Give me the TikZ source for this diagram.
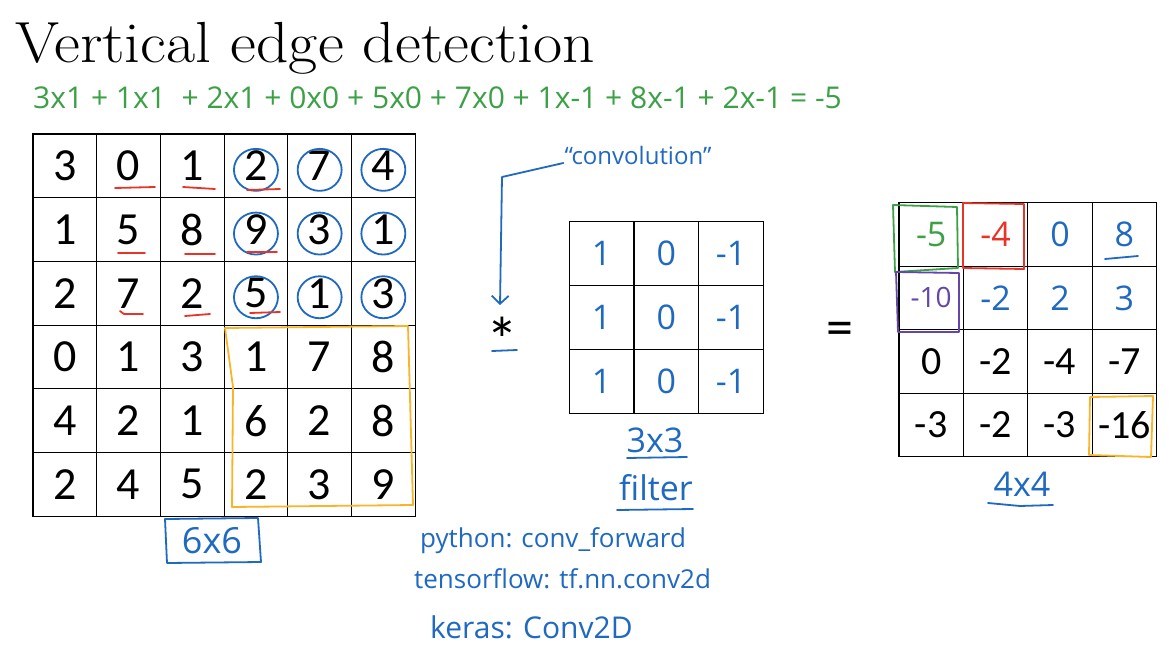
\documentclass[tikz,border=0pt]{standalone}
\usepackage{fontspec}
\usetikzlibrary{calc,arrows.meta}
\newfontfamily\numfont{Carlito}
\newfontfamily\handfont{Open Sans}
\definecolor{hblue}{RGB}{31,105,193}
\definecolor{hgreen}{RGB}{60,160,70}
\definecolor{hred}{RGB}{232,52,40}
\definecolor{horange}{RGB}{250,180,40}
\definecolor{hpurple}{RGB}{100,70,170}
\begin{document}
\begin{tikzpicture}[x=1pt,y=-1pt,
  cell/.style={draw=black, line width=1.2pt, minimum width=63.7pt, minimum height=63.7pt, inner sep=0pt},
  fcell/.style={draw=black, line width=1.2pt, minimum width=64.7pt, minimum height=64pt, inner sep=0pt},
  ocell/.style={draw=black, line width=1.2pt, minimum width=64.4pt, minimum height=63.5pt, inner sep=0pt},
  bignum/.style={font=\numfont\fontsize{46}{46}\selectfont},
  outnum/.style={font=\numfont\fontsize{40}{40}\selectfont, text=black},
  handnum/.style={font=\handfont\fontsize{34}{34}\selectfont, text=hblue},
  hand/.style={line width=1.8pt, line cap=round, line join=round},
  ogreen/.style={handnum, text=hgreen},
  ored/.style={handnum, text=hred},
  oblue/.style={handnum, text=hblue},
  opurple/.style={font=\handfont\fontsize{28}{28}\selectfont, text=hpurple},
  oblack/.style={outnum},
  label/.style={font=\handfont\fontsize{34}{34}\selectfont, text=hblue, inner sep=0pt},
  code/.style={font=\handfont\fontsize{26}{26}\selectfont, text=hblue, inner sep=0pt, anchor=base west}
]
\fill[white] (0,0) rectangle (1170,645);
\useasboundingbox (0,0) rectangle (1170,645);

% title
\node[anchor=base west, inner sep=0pt, xscale=1.094, font=\fontsize{58}{60}\selectfont] (title) at (15,62) {Vertical edge detection};

% green equation
\node[anchor=west, inner sep=0pt, text=hgreen, font=\handfont\fontsize{30}{30}\selectfont] (eq) at (33,98)
  {3x1 + 1x1 \ + 2x1 + 0x0 + 5x0 + 7x0 + 1x-1 + 8x-1 + 2x-1 = -5};

% 6x6 input
\foreach \row [count=\r] in {{3,0,1,2,7,4},{1,5,8,9,3,1},{2,7,2,5,1,3},{0,1,3,1,7,8},{4,2,1,6,2,8},{2,4,5,2,3,9}} {
  \foreach \v [count=\c] in \row {
    \node[cell, bignum] (g-\r-\c) at ({33+63.7*(\c-0.5)},{134+63.7*(\r-0.5)}) {\v};
  }
}
% blue circles
\foreach \r in {1,2,3} {
  \foreach \c in {4,5,6} {
    \draw[hand, hblue] ($(g-\r-\c.center)+(0,4)$) ellipse [x radius=22, y radius=21];
  }
}
% red underlines
\draw[hand, hred] (115,188) -- (155,187);
\draw[hand, hred] (183,187) -- (215,189);
\draw[hand, hred] (247,190) -- (280,189);
\draw[hand, hred] (118,253) -- (145,253);
\draw[hand, hred] (185,254) -- (215,254);
\draw[hand, hred] (247,252) -- (277,252);
\draw[hand, hred] (120,311) -- (124,314) -- (143,314);
\draw[hand, hred] (185,316) -- (210,314);
\draw[hand, hred] (250,313) -- (280,312);
% orange window
\draw[hand, horange] (225,328) -- (408,326) -- (413,505) -- (232,507) -- (233,387) -- cycle;
% 6x6 label
\node[label, font=\handfont\fontsize{36}{36}\selectfont] (l66) at (212,541) {6x6};
\draw[hand, hblue] (165,519) -- (258,518) -- (261,562) -- (167,563) -- cycle;

% convolution label and arrow
\node[font=\handfont\fontsize{24}{24}\selectfont, text=hblue, inner sep=1pt] (conv) at (638,155) {“convolution”};
\node[anchor=base, inner sep=0pt, font=\numfont\fontsize{64}{64}\selectfont] (star) at (502,362) {*};
\coordinate (bend) at (502,177);
\coordinate (tip) at (500,305);
\draw[hand, hblue, -{Straight Barb[length=8pt,width=17pt,line width=1.8pt]}] ($(conv.west)+(0,8)$) -- (bend) -- (tip);
\draw[hand, hblue] (492,351) -- (517,350);

% filter
\foreach \r in {1,2,3} {
  \foreach \c/\v in {1/1,2/0,3/-1} {
    \node[fcell, handnum] (f-\r-\c) at ({569.3+64.7*(\c-0.5)},{221.7+64*(\r-0.5)}) {\v};
  }
}
\node[label] (l33) at (655,440) {3x3};
\draw[hand, hblue] (627,458) -- (687,457);
\node[label] (lfilter) at (656,488) {filter};
\draw[hand, hblue] (617,510) -- (693,509);

% equals
\node[anchor=base, inner sep=0pt, font=\numfont\fontsize{54}{54}\selectfont] (eqs) at (840,345) {=};

% output
\foreach \r/\c/\st/\t in {1/1/ogreen/-5, 1/2/ored/-4, 1/3/oblue/0, 1/4/oblue/8,
  2/1/opurple/-10, 2/2/oblue/-2, 2/3/oblue/2, 2/4/oblue/3,
  3/1/oblack/0, 3/2/oblack/-2, 3/3/oblack/-4, 3/4/oblack/-7,
  4/1/oblack/-3, 4/2/oblack/-2, 4/3/oblack/-3, 4/4/oblack/-16} {
  \node[ocell, \st] (o-\r-\c) at ({899+64.4*(\c-0.5)},{202.7+63.5*(\r-0.5)}) {\t};
}
\draw[hand, hgreen] (893,205) -- (957,207) -- (958,268) -- (895,272) -- cycle;
\draw[hand, hred] (963,203) -- (1024,204) -- (1024,269) -- (963,268) -- cycle;
\draw[hand, hpurple] (896,272) -- (959,273) -- (959,332) -- (898,332) -- cycle;
\draw[hand, horange] (1090,397) -- (1153,396) -- (1151,457) -- (1089,455) -- cycle;
\draw[hand, hblue] (1105,259) -- (1138,256);
\node[label] (l44) at (1022,484) {4x4};
\draw[hand, hblue] (988,503) -- (1020,506) -- (1053,505);

% code names
\node[code] (py) at (420,547) {python: conv\_forward};
\node[code] (tf) at (414,588) {tensorflow: tf.nn.conv2d};
\node[code, font=\handfont\fontsize{30}{30}\selectfont] (ks) at (430,638) {keras: Conv2D};
\end{tikzpicture}
\end{document}
